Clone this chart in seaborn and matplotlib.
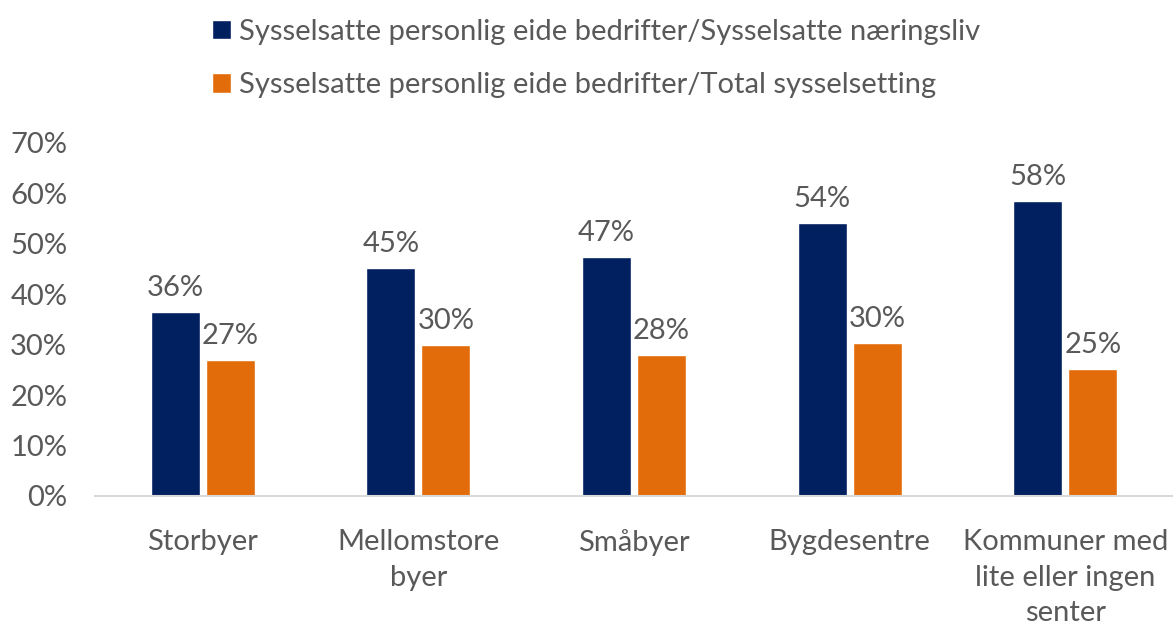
import numpy as np
import pandas as pd
import matplotlib.pyplot as plt
import seaborn as sns
from matplotlib.ticker import PercentFormatter
from matplotlib.patches import Patch

# Data
categories = ["Storbyer", "Mellomstore\nbyer", "Småbyer", "Bygdesentre",
              "Kommuner med\nlite eller ingen\nsenter"]
series_names = ["Sysselsatte personlig eide bedrifter/Sysselsatte næringsliv",
                "Sysselsatte personlig eide bedrifter/Total sysselsetting"]
naeringsliv = [0.364, 0.452, 0.474, 0.541, 0.584]
total = [0.270, 0.299, 0.280, 0.304, 0.252]
colors = ["#002060", "#E36C0A"]

df = pd.DataFrame({
    "kategori": categories * 2,
    "serie": [series_names[0]] * 5 + [series_names[1]] * 5,
    "verdi": naeringsliv + total,
})

sns.set_theme(style="white")
plt.rcParams['font.family'] = ['Lato', 'DejaVu Sans']
text_color = "#595959"
fs = 21

fig = plt.figure(figsize=(11.73, 6.26), dpi=100)
ax = fig.add_axes([0.081, 0.2077, 0.919, 0.5639])

sns.barplot(data=df, x="kategori", y="verdi", hue="serie", palette=colors,
            width=0.51, gap=0.11, ax=ax, legend=False, saturation=1)

for cont in ax.containers:
    ax.bar_label(cont, labels=[f"{v*100:.0f}%" for v in cont.datavalues],
                 padding=8, fontsize=fs, color=text_color)

ax.set_ylim(0, 0.7)
ax.set_yticks(np.arange(0, 0.71, 0.1))
ax.yaxis.set_major_formatter(PercentFormatter(1.0, decimals=0))
ax.set_xlabel("")
ax.set_ylabel("")
ax.tick_params(axis="both", length=0, labelsize=fs, colors=text_color)
ax.tick_params(axis="y", pad=20)
ax.tick_params(axis="x", pad=24)
for lbl in ax.get_xticklabels():
    lbl.set_linespacing(1.45)
for s in ["top", "right", "left"]:
    ax.spines[s].set_visible(False)
ax.spines["bottom"].set_color("#d9d9d9")
ax.spines["bottom"].set_linewidth(1.5)

handles = [Patch(facecolor=c) for c in colors]
leg = fig.legend(handles, series_names, loc="upper left",
                 bbox_to_anchor=(0.158, 1.012), frameon=False, fontsize=fs,
                 handlelength=0.65, handleheight=0.65, handletextpad=0.3,
                 labelspacing=0.95)
for t in leg.get_texts():
    t.set_color(text_color)

plt.savefig("out.png", dpi=100)
